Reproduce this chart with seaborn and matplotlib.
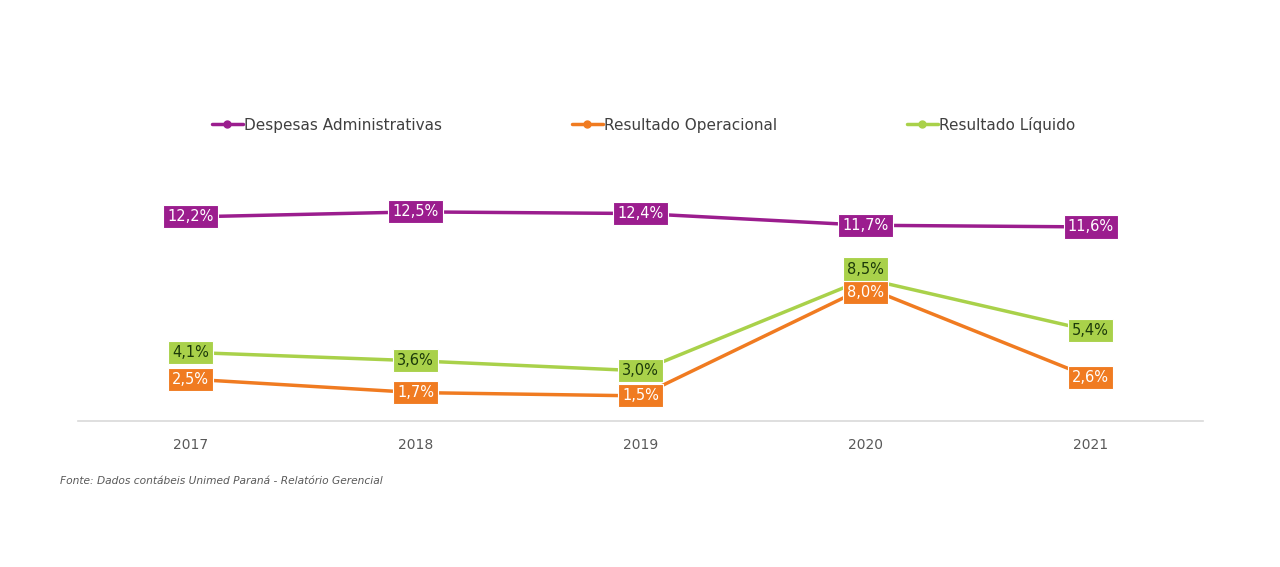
import pandas as pd
import seaborn as sns
import matplotlib.pyplot as plt

anos = ['2017', '2018', '2019', '2020', '2021']
despesas_adm = [12.2, 12.5, 12.4, 11.7, 11.6]
resultado_op = [2.5, 1.7, 1.5, 8.0, 2.6]
resultado_liq = [4.1, 3.6, 3.0, 8.5, 5.4]
series = ['Despesas Administrativas', 'Resultado Operacional', 'Resultado Líquido']

cores = {'Despesas Administrativas': '#9b1d8e',
         'Resultado Operacional': '#f07b21',
         'Resultado Líquido': '#a9d14a'}
cor_texto = {'Despesas Administrativas': 'white',
             'Resultado Operacional': 'white',
             'Resultado Líquido': '#1c3a0a'}

df = pd.DataFrame({
    'ano': anos * 3,
    'valor': despesas_adm + resultado_op + resultado_liq,
    'serie': [series[0]] * 5 + [series[1]] * 5 + [series[2]] * 5,
})

sns.set_style('white')
plt.rcParams['font.family'] = ['DejaVu Sans']

fig = plt.figure(figsize=(12.8, 5.67), dpi=100)
ax = fig.add_axes([0.061, 0.2575, 0.879, 0.478])

sns.lineplot(data=df, x='ano', y='valor', hue='serie', palette=cores,
             linewidth=2.5, ax=ax, legend=False, sort=False)

# rotulos de dados (2020 afastados para nao sobrepor)
deslocar = {('Resultado Líquido', '2020'): 7, ('Resultado Operacional', '2020'): -4}
for _, r in df.iterrows():
    dy = deslocar.get((r['serie'], r['ano']), 0)
    ax.annotate(f"{r['valor']:.1f}%".replace('.', ','),
                xy=(r['ano'], r['valor']), xytext=(0, dy), textcoords='offset points',
                ha='center', va='center', fontsize=10.5, color=cor_texto[r['serie']],
                bbox=dict(boxstyle='square,pad=0.28', fc=cores[r['serie']], ec='white', lw=0.8),
                zorder=5)

ax.set_xlim(-0.5, 4.5)
ax.set_ylim(0, 16.2)
ax.set_xlabel('')
ax.set_ylabel('')
ax.set_yticks([])
for s in ['top', 'left', 'right']:
    ax.spines[s].set_visible(False)
ax.spines['bottom'].set_color('#d9d9d9')
ax.spines['bottom'].set_linewidth(1.2)
ax.tick_params(axis='x', length=0, pad=12, labelsize=10, labelcolor='#595959')

handles = [plt.Line2D([], [], color=cores[s], lw=2.5, marker='o', markersize=5) for s in series]
fig.legend(handles, series, loc='center', bbox_to_anchor=(0.503, 0.78), ncol=3,
           frameon=False, fontsize=11, handlelength=2.0, handletextpad=0.1,
           columnspacing=8.5, labelcolor='#404040')

fig.text(0.047, 0.152, 'Fonte: Dados contábeis Unimed Paraná - Relatório Gerencial',
         fontsize=7.7, style='italic', color='#595959', va='center')

fig.savefig('out.png', dpi=100)
